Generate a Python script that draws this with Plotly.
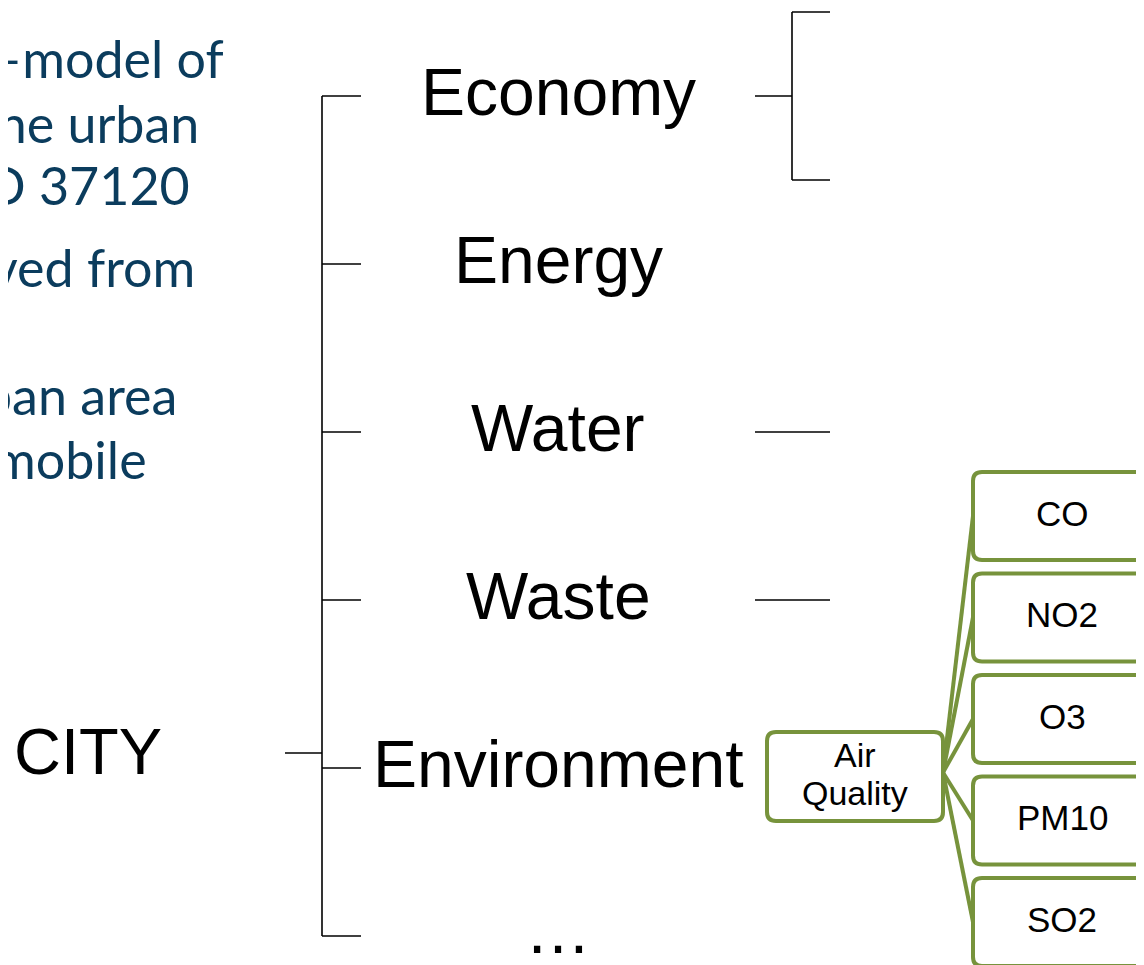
import plotly.graph_objects as go

# ---------------- content ----------------
ROOT = "CITY"
DOMAINS = ["Economy", "Energy", "Water", "Waste", "Environment", "…"]
ECONOMY_BRANCHES = [-1, 1]              # two sub-branches on the Economy bracket
SINGLE_BRANCH_DOMAINS = ["Water", "Waste"]
SUB_NODE_LINES = ["Air", "Quality"]
POLLUTANTS = ["CO", "NO2", "O3", "PM10", "SO2"]
INTRO_LINES = ["–model of", "the urban", "O 37120", "ved from", "ban area", "mobile"]
INTRO_RIGHT = [226, 201, 192, 197, 179, 149]
INTRO_BASE = [78, 143, 205, 287, 415, 479]

# ---------------- layout constants ----------------
W, H = 1144, 965
PAGE_OFF = 8          # page body margin of the html page
ROW0, ROW_STEP = 96, 168
TREE_X, TICK_END = 322, 361
ROOT_X0, ROOT_Y, ROOT_LABEL_X = 285, 753, 88
LABEL_X = 558
RX0, RBRACK, RX1, ESPREAD = 755, 792, 830, 84
AQ = (767, 732, 943, 821)
BX0, BX1, BTOP0, BH, BSTEP = 973, 1175, 472, 88, 101.5
GREEN = "#77933C"
TEAL = "#0B3C5D"
ARIAL = "Liberation Sans, Arial, sans-serif"

row_y = [ROW0 + i * ROW_STEP for i in range(len(DOMAINS))]

fig = go.Figure()

# black tree lines
bx, by = [], []
def seg(x0, y0, x1, y1):
    bx.extend([x0, x1, None]); by.extend([y0, y1, None])

seg(TREE_X, row_y[0], TREE_X, row_y[-1])
for y in row_y:
    seg(TREE_X, y, TICK_END, y)
seg(ROOT_X0, ROOT_Y, TREE_X, ROOT_Y)
ey = row_y[DOMAINS.index("Economy")]
seg(RX0, ey, RBRACK, ey)
seg(RBRACK, ey + ECONOMY_BRANCHES[0] * ESPREAD, RBRACK, ey + ECONOMY_BRANCHES[-1] * ESPREAD)
for b in ECONOMY_BRANCHES:
    seg(RBRACK, ey + b * ESPREAD, RX1, ey + b * ESPREAD)
for d in SINGLE_BRANCH_DOMAINS:
    y = row_y[DOMAINS.index(d)]
    seg(RX0, y, RX1, y)

fig.add_trace(go.Scatter(x=bx, y=by, mode="lines", line=dict(color="black", width=1.6),
                         hoverinfo="skip", showlegend=False))

# green connectors
aq_mid = (AQ[1] + AQ[3]) / 2
gx, gy = [], []
box_centers = []
for i, p in enumerate(POLLUTANTS):
    top = BTOP0 + i * BSTEP
    cy = top + BH / 2
    box_centers.append(cy)
    gx.extend([AQ[2], BX0, None]); gy.extend([aq_mid - 4, cy, None])
fig.add_trace(go.Scatter(x=gx, y=gy, mode="lines", line=dict(color=GREEN, width=4),
                         hoverinfo="skip", showlegend=False))

def rrect(x0, y0, x1, y1, r=9):
    return (f"M {x0+r},{y0} L {x1-r},{y0} Q {x1},{y0} {x1},{y0+r} "
            f"L {x1},{y1-r} Q {x1},{y1} {x1-r},{y1} L {x0+r},{y1} "
            f"Q {x0},{y1} {x0},{y1-r} L {x0},{y0+r} Q {x0},{y0} {x0+r},{y0} Z")

shapes = [dict(type="path", path=rrect(*AQ), line=dict(color=GREEN, width=4),
               fillcolor="white", xref="x", yref="y")]
for i, p in enumerate(POLLUTANTS):
    top = BTOP0 + i * BSTEP
    shapes.append(dict(type="path", path=rrect(BX0, top, BX1, top + BH),
                       line=dict(color=GREEN, width=4), fillcolor="white",
                       xref="x", yref="y"))

ann = []
for d, y in zip(DOMAINS, row_y):
    ann.append(dict(x=LABEL_X, y=(y - 6) if d == "…" else (y - 4), text=d, showarrow=False,
                    font=dict(family=ARIAL, size=66, color="black"),
                    xanchor="center", yanchor="middle"))
ann.append(dict(x=ROOT_LABEL_X, y=ROOT_Y - 2, text=ROOT, showarrow=False,
                font=dict(family=ARIAL, size=65, color="black"),
                xanchor="center", yanchor="middle"))
for j, t in enumerate(SUB_NODE_LINES):
    ann.append(dict(x=(AQ[0] + AQ[2]) / 2, y=755 + j * 38, text=t, showarrow=False,
                    font=dict(family=ARIAL, size=34, color="black"),
                    xanchor="center", yanchor="middle"))
for p, cy in zip(POLLUTANTS, box_centers):
    ann.append(dict(x=1062, y=cy - 3, text=p, showarrow=False,
                    font=dict(family=ARIAL, size=35, color="black"),
                    xanchor="center", yanchor="middle"))
for t, xr, yb in zip(INTRO_LINES, INTRO_RIGHT, INTRO_BASE):
    ann.append(dict(x=xr, y=yb - 20, text=t, showarrow=False,
                    font=dict(family="Lato, Open Sans, sans-serif", size=52, color=TEAL),
                    xanchor="right", yanchor="middle"))

fig.update_layout(
    width=W - PAGE_OFF, height=H - PAGE_OFF, margin=dict(l=0, r=0, t=0, b=0),
    paper_bgcolor="white", plot_bgcolor="white",
    xaxis=dict(range=[PAGE_OFF, W], visible=False, fixedrange=True),
    yaxis=dict(range=[H, PAGE_OFF], visible=False, fixedrange=True),
    shapes=shapes, annotations=ann, showlegend=False,
)
fig.write_html("out.html")
